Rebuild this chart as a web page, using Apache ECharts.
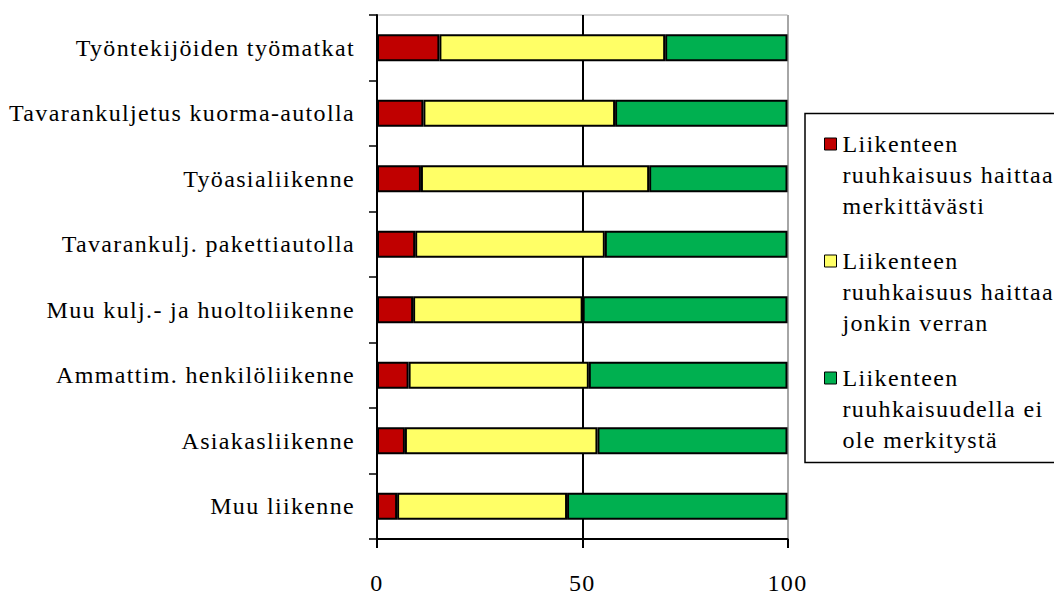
<!DOCTYPE html>
<html>
<head>
<meta charset="utf-8">
<script src="https://cdn.jsdelivr.net/npm/echarts@6/dist/echarts.min.js"></script>
<style>
  html, body { margin: 0; padding: 0; background: #fff; }
  #main { width: 1054px; height: 595px; }
  #main text { letter-spacing: 1.35px; }
</style>
</head>
<body>
<div id="main"></div>
<script>
const categories = [
  'Työntekijöiden työmatkat',
  'Tavarankuljetus kuorma-autolla',
  'Työasialiikenne',
  'Tavarankulj. pakettiautolla',
  'Muu kulj.- ja huoltoliikenne',
  'Ammattim. henkilöliikenne',
  'Asiakasliikenne',
  'Muu liikenne'
];
const seriesNames = [
  'Liikenteen ruuhkaisuus haittaa merkittävästi',
  'Liikenteen ruuhkaisuus haittaa jonkin verran',
  'Liikenteen ruuhkaisuudella ei ole merkitystä'
];
const legendLines = [
  ['Liikenteen', 'ruuhkaisuus haittaa', 'merkittävästi'],
  ['Liikenteen', 'ruuhkaisuus haittaa', 'jonkin verran'],
  ['Liikenteen', 'ruuhkaisuudella ei', 'ole merkitystä']
];
const redValues    = [15.2, 11.3, 10.7, 9.3, 8.8, 7.7, 6.8, 4.9];
const yellowValues = [55.0, 46.7, 55.6, 46.2, 41.3, 43.9, 46.9, 41.4];
const greenValues  = [29.8, 42.0, 33.7, 44.5, 49.9, 48.4, 46.3, 53.7];
const xTickValues = [0, 50, 100];

const FONT = 'Liberation Serif';
const colors = ['#C00000', '#FFFF66', '#00B050'];
const valueSets = [redValues, yellowValues, greenValues];

const chart = echarts.init(document.getElementById('main'), null, { renderer: 'svg' });
chart.setOption({
  animation: false,
  backgroundColor: '#fff',
  grid: {
    left: 377, top: 15, width: 410.5, height: 528,
    show: true, borderColor: '#a6a6a6', borderWidth: 1, backgroundColor: 'transparent'
  },
  xAxis: {
    type: 'value',
    min: xTickValues[0],
    max: xTickValues[xTickValues.length - 1],
    interval: xTickValues[1] - xTickValues[0],
    axisLine: { show: true, lineStyle: { color: '#000', width: 2 } },
    axisTick: { show: true, length: 9, lineStyle: { color: '#000', width: 2 } },
    axisLabel: { fontFamily: FONT, fontSize: 24, color: '#000', margin: 32 },
    splitLine: { show: true, lineStyle: { color: ['#000', '#000', '#a6a6a6'], width: 2 } }
  },
  yAxis: {
    type: 'category',
    inverse: true,
    data: categories,
    axisLine: { show: true, lineStyle: { color: '#000', width: 2 } },
    axisTick: { show: true, length: 8, lineStyle: { color: '#000', width: 1.5 } },
    axisLabel: { fontFamily: FONT, fontSize: 24, color: '#000', margin: 22 },
    splitLine: { show: false }
  },
  legend: {
    orient: 'vertical',
    left: 824,
    top: 66.5,
    padding: 0,
    itemWidth: 12,
    itemHeight: 12,
    itemGap: -38,
    icon: 'rect',
    selectedMode: false,
    itemStyle: { borderColor: '#000', borderWidth: 1 },
    textStyle: { fontFamily: FONT, fontSize: 24, color: '#000', lineHeight: 31, padding: [0, 0, 0, 1] },
    formatter: function (name) {
      const lines = legendLines[seriesNames.indexOf(name)];
      return '\n\n' + lines.join('\n');
    },
    data: seriesNames
  },
  graphic: [{
    type: 'rect',
    shape: { x: 805, y: 113.5, width: 400, height: 349 },
    style: { fill: 'none', stroke: '#000', lineWidth: 1.5 },
    silent: true
  }],
  series: seriesNames.map((name, i) => ({
    name: name,
    type: 'bar',
    stack: 'total',
    barWidth: 27,
    data: valueSets[i],
    itemStyle: { color: colors[i], borderColor: '#000', borderWidth: 2 },
    emphasis: { disabled: true }
  }))
});
</script>
</body>
</html>
